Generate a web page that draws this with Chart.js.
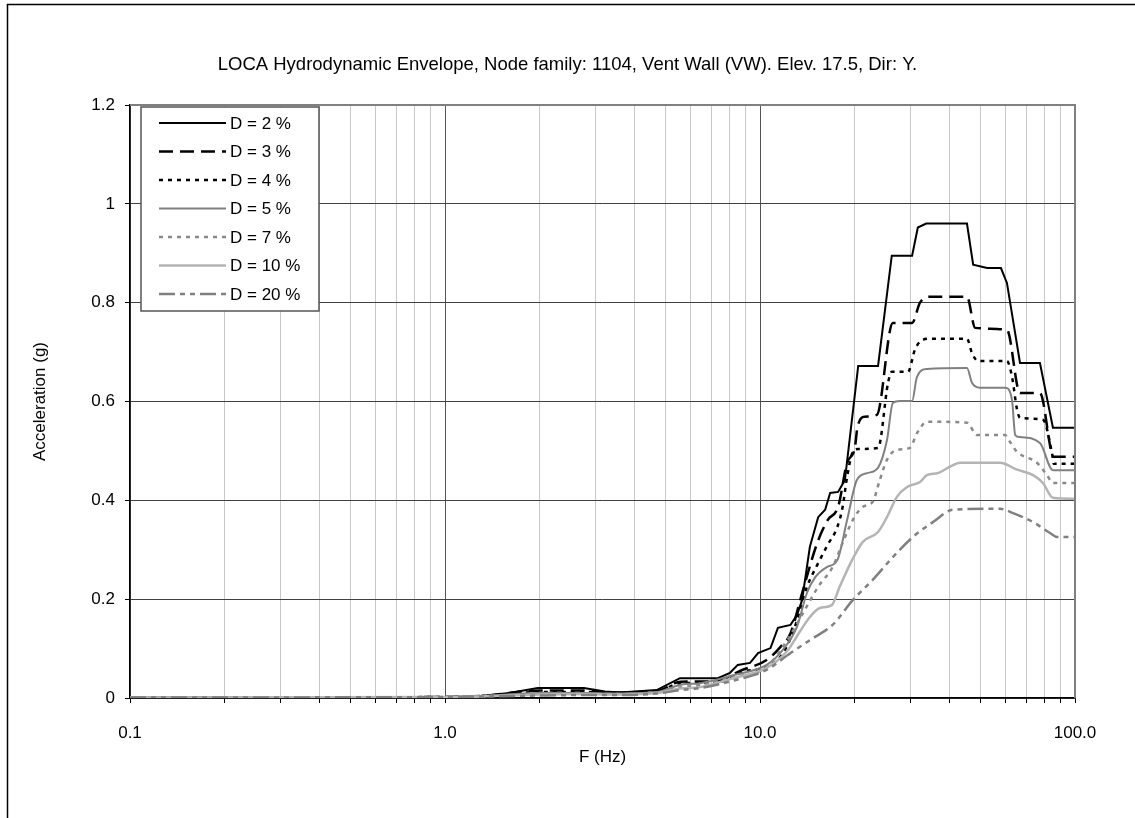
<!DOCTYPE html>
<html>
<head>
<meta charset="utf-8">
<script src="https://cdn.jsdelivr.net/npm/chart.js@4.4.1/dist/chart.umd.min.js"></script>
<style>
  html, body { margin: 0; padding: 0; background: #fff; }
  #wrap { position: relative; width: 1135px; height: 818px; }
</style>
</head>
<body>
<div id="wrap"><canvas id="chart" width="1135" height="818"></canvas></div>
<script>
// LOCA hydrodynamic envelope spectra
const chartTitle = "LOCA Hydrodynamic Envelope, Node family: 1104, Vent Wall (VW). Elev. 17.5, Dir: Y.";
const seriesLabels = ["D = 2 %", "D = 3 %", "D = 4 %", "D = 5 %", "D = 7 %", "D = 10 %", "D = 20 %"];

const xMajorValues = [0.1, 1, 10, 100];
const xMajorText = ["0.1", "1.0", "10.0", "100.0"];
const yTickValues = [0, 0.2, 0.4, 0.6, 0.8, 1.0, 1.2];
const yTickText = ["0", "0.2", "0.4", "0.6", "0.8", "1", "1.2"];

const freqD2 = [0.1, 0.5, 1.0, 1.26, 1.6, 1.97, 2.76, 3.22, 3.6, 4.7, 5.57, 7.35, 8.03, 8.5, 9.3, 9.86, 10.8, 11.4, 12.5, 13.1, 13.6, 14.4, 15.3, 16.1, 16.7, 17.7, 18.6, 20.5, 23.7, 26.2, 30.4, 31.7, 33.7, 45.4, 47.5, 52.6, 58.2, 60.8, 66.9, 77.4, 85.1, 100];
const accD2  = [0.001, 0.001, 0.002, 0.003, 0.01, 0.02, 0.02, 0.013, 0.011, 0.016, 0.04, 0.04, 0.051, 0.067, 0.071, 0.091, 0.101, 0.142, 0.148, 0.168, 0.198, 0.306, 0.366, 0.381, 0.415, 0.417, 0.441, 0.672, 0.672, 0.895, 0.895, 0.952, 0.96, 0.96, 0.877, 0.87, 0.87, 0.84, 0.678, 0.678, 0.547, 0.547];

const freqD3 = [0.1, 1.0, 1.3, 2.0, 2.8, 3.3, 4.7, 5.6, 7.3, 8.64, 10.5, 11.6, 12.5, 13.7, 15.2, 16.4, 17.7, 18.9, 20.0, 20.4, 21.5, 23.5, 26.4, 30.4, 32.2, 34.7, 45.4, 48.2, 60.8, 66.9, 77.4, 85.6, 100];
const accD3  = [0.001, 0.002, 0.004, 0.015, 0.015, 0.011, 0.014, 0.033, 0.034, 0.055, 0.077, 0.103, 0.131, 0.219, 0.314, 0.36, 0.387, 0.476, 0.506, 0.549, 0.569, 0.573, 0.759, 0.759, 0.80, 0.812, 0.812, 0.749, 0.745, 0.617, 0.617, 0.488, 0.488];

const freqD4 = [0.1, 1.0, 1.3, 2.0, 2.8, 3.3, 4.7, 5.6, 7.3, 8.83, 10.5, 11.6, 12.7, 14.1, 15.3, 16.4, 17.6, 18.3, 18.9, 19.7, 20.5, 23.7, 25.5, 26.2, 29.5, 31.0, 32.2, 34.7, 45.4, 47.1, 49.2, 60.8, 63.1, 65.5, 66.9, 79.1, 84.5, 85.6, 100];
const accD4  = [0.001, 0.002, 0.004, 0.012, 0.012, 0.01, 0.013, 0.03, 0.031, 0.053, 0.063, 0.083, 0.131, 0.225, 0.273, 0.31, 0.346, 0.387, 0.447, 0.498, 0.504, 0.506, 0.638, 0.66, 0.66, 0.704, 0.721, 0.727, 0.727, 0.698, 0.682, 0.682, 0.65, 0.583, 0.567, 0.563, 0.496, 0.474, 0.474];

const freqD5 = [0.1, 1.0, 1.3, 2.0, 2.8, 3.3, 4.7, 5.6, 6.45, 8.2, 10.5, 11.8, 13.1, 14.1, 15.0, 16.3, 17.6, 18.9, 20.3, 21.9, 23.7, 25.3, 26.4, 27.8, 30.4, 31.5, 33.9, 45.4, 47.1, 49.9, 60.0, 63.1, 64.6, 66.9, 77.4, 85.1, 100];
const accD5  = [0.001, 0.002, 0.004, 0.01, 0.01, 0.009, 0.012, 0.027, 0.03, 0.046, 0.067, 0.097, 0.144, 0.213, 0.245, 0.265, 0.279, 0.36, 0.441, 0.455, 0.466, 0.522, 0.597, 0.601, 0.601, 0.65, 0.666, 0.668, 0.638, 0.628, 0.628, 0.603, 0.532, 0.528, 0.516, 0.461, 0.461];

const freqD7 = [0.1, 1.0, 1.3, 2.0, 2.8, 3.3, 4.7, 5.6, 6.45, 8.2, 10.5, 12.2, 13.7, 15.3, 17.0, 18.3, 19.7, 21.2, 22.8, 24.0, 25.3, 27.2, 29.9, 31.5, 33.9, 45.4, 48.9, 60.0, 62.2, 65.5, 75.7, 81.5, 85.1, 100];
const accD7  = [0.001, 0.002, 0.003, 0.009, 0.009, 0.008, 0.011, 0.022, 0.026, 0.042, 0.063, 0.117, 0.172, 0.225, 0.265, 0.314, 0.36, 0.387, 0.397, 0.441, 0.482, 0.502, 0.506, 0.536, 0.559, 0.557, 0.532, 0.532, 0.518, 0.498, 0.476, 0.451, 0.435, 0.435];

const freqD10 = [0.1, 1.0, 1.3, 2.0, 2.8, 3.3, 4.7, 5.6, 6.45, 8.2, 10.5, 12.2, 13.4, 14.4, 15.5, 16.9, 17.9, 19.6, 21.2, 23.7, 25.3, 27.2, 29.3, 32.2, 33.9, 36.7, 40.1, 43.2, 57.8, 65.5, 73.6, 79.1, 85.1, 100];
const accD10  = [0.001, 0.002, 0.003, 0.007, 0.008, 0.007, 0.01, 0.019, 0.022, 0.04, 0.061, 0.095, 0.135, 0.164, 0.182, 0.188, 0.225, 0.279, 0.316, 0.336, 0.366, 0.407, 0.427, 0.437, 0.451, 0.455, 0.468, 0.476, 0.476, 0.462, 0.451, 0.435, 0.405, 0.403];

const freqD20 = [0.1, 1.0, 1.3, 2.0, 2.8, 3.3, 4.7, 5.6, 6.45, 8.2, 10.5, 12.5, 14.4, 17.0, 19.7, 22.8, 26.4, 30.6, 35.4, 41.0, 57.8, 63.6, 73.6, 83.3, 87.7, 100];
const accD20  = [0.001, 0.002, 0.003, 0.005, 0.006, 0.006, 0.009, 0.016, 0.02, 0.035, 0.057, 0.091, 0.117, 0.148, 0.198, 0.239, 0.285, 0.326, 0.356, 0.381, 0.383, 0.374, 0.356, 0.334, 0.326, 0.326];

const FONT = '"Liberation Sans", Arial, sans-serif';

function pts(freq, acc) {
  return freq.map((f, i) => ({ x: f, y: acc[i] }));
}

// minor log ticks 1..9 per decade
const xTickValues = [];
const xTickText = [];
xMajorValues.forEach((d, k) => {
  xTickValues.push(d); xTickText.push(xMajorText[k]);
  if (k < xMajorValues.length - 1) {
    for (let m = 2; m <= 9; m++) { xTickValues.push(d * m); xTickText.push(""); }
  }
});

function isMajor(v) {
  return xMajorValues.some(d => Math.abs(v - d) < 1e-9);
}

const series = [
  { freq: freqD2,  acc: accD2,  color: "#000000", width: 2,   dash: [],                 smooth: false },
  { freq: freqD3,  acc: accD3,  color: "#000000", width: 2.5, dash: [14, 7],            smooth: true },
  { freq: freqD4,  acc: accD4,  color: "#000000", width: 2.5, dash: [4, 5],             smooth: true },
  { freq: freqD5,  acc: accD5,  color: "#808080", width: 2,   dash: [],                 smooth: true },
  { freq: freqD7,  acc: accD7,  color: "#8a8a8a", width: 2.5, dash: [4, 5],             smooth: true },
  { freq: freqD10, acc: accD10, color: "#b4b4b4", width: 2.5, dash: [],                 smooth: true },
  { freq: freqD20, acc: accD20, color: "#808080", width: 2.5, dash: [16, 5, 5, 5, 5, 5], smooth: true }
];

const datasets = series.map((s, i) => ({
  label: seriesLabels[i],
  data: pts(s.freq, s.acc),
  borderColor: s.color,
  borderWidth: s.width,
  borderDash: s.dash,
  cubicInterpolationMode: s.smooth ? "monotone" : "default",
  pointRadius: 0,
  fill: false,
  order: series.length - 1 - i
}));

const framePlugin = {
  id: "frame",
  beforeDraw(chart) {
    const ctx = chart.ctx;
    ctx.save();
    ctx.fillStyle = "#fff";
    ctx.fillRect(0, 0, chart.width, chart.height);
    ctx.restore();
  },
  afterDraw(chart) {
    const ctx = chart.ctx;
    const a = chart.chartArea;
    ctx.save();
    // outer chart border (top + left visible)
    ctx.strokeStyle = "#000";
    ctx.lineWidth = 1.5;
    ctx.beginPath();
    ctx.moveTo(7.5, chart.height);
    ctx.lineTo(7.5, 4.5);
    ctx.lineTo(chart.width, 4.5);
    ctx.stroke();

    // plot frame top + right
    ctx.strokeStyle = "#808080";
    ctx.lineWidth = 2;
    ctx.beginPath();
    ctx.moveTo(a.left, a.top);
    ctx.lineTo(a.right, a.top);
    ctx.lineTo(a.right, a.bottom);
    ctx.stroke();

    // title
    ctx.fillStyle = "#000";
    ctx.font = "18.5px " + FONT;
    ctx.textAlign = "center";
    ctx.textBaseline = "middle";
    ctx.fillText(chartTitle, chart.width / 2, 65);

    // legend box
    const lx = a.left + 11, ly = a.top + 2, lw = 178, lh = 204;
    ctx.fillStyle = "#fff";
    ctx.fillRect(lx, ly, lw, lh);
    ctx.strokeStyle = "#555";
    ctx.lineWidth = 1.5;
    ctx.strokeRect(lx, ly, lw, lh);
    chart.data.datasets.forEach((ds, i) => {
      const y = ly + 16 + i * 28.5;
      ctx.strokeStyle = ds.borderColor;
      ctx.lineWidth = ds.borderWidth;
      ctx.setLineDash(ds.borderDash || []);
      ctx.beginPath();
      ctx.moveTo(lx + 18, y);
      ctx.lineTo(lx + 85, y);
      ctx.stroke();
      ctx.setLineDash([]);
      ctx.fillStyle = "#000";
      ctx.font = "17px " + FONT;
      ctx.textAlign = "left";
      ctx.textBaseline = "middle";
      ctx.fillText(ds.label, lx + 89, y + 1);
    });
    ctx.restore();
  }
};

new Chart(document.getElementById("chart"), {
  type: "line",
  data: { datasets },
  options: {
    responsive: false,
    animation: false,
    events: [],
    layout: { padding: { left: 0, top: 105, right: 60, bottom: 0 } },
    plugins: { legend: { display: false }, tooltip: { enabled: false }, title: { display: false } },
    scales: {
      x: {
        type: "logarithmic",
        min: 0.1,
        max: 100,
        afterBuildTicks: s => { s.ticks = xTickValues.map(v => ({ value: v })); },
        afterFit: s => { s.height = 120; },
        ticks: {
          autoSkip: false, maxRotation: 0, padding: 20, color: "#000",
          font: { family: FONT, size: 17 },
          callback: (v, i) => xTickText[i]
        },
        grid: {
          color: c => (c.tick && isMajor(c.tick.value)) ? "#555555" : "#c8c8c8",
          lineWidth: 1, tickLength: 5, tickColor: "#000"
        },
        border: { color: "#000", width: 1.5 },
        title: { display: true, text: "F (Hz)", color: "#000", font: { family: FONT, size: 17 }, padding: { bottom: 50 } }
      },
      y: {
        min: 0,
        max: 1.2,
        afterBuildTicks: s => { s.ticks = yTickValues.map(v => ({ value: v })); },
        afterFit: s => { s.width = 130; },
        ticks: {
          padding: 10, color: "#000",
          font: { family: FONT, size: 17 },
          callback: (v, i) => yTickText[i]
        },
        grid: { color: "#404040", lineWidth: 1, tickLength: 5, tickColor: "#000" },
        border: { color: "#000", width: 1.5 },
        title: { display: true, text: "Acceleration (g)", color: "#000", font: { family: FONT, size: 17 }, padding: { top: 30 } }
      }
    }
  },
  plugins: [framePlugin]
});
</script>
</body>
</html>
